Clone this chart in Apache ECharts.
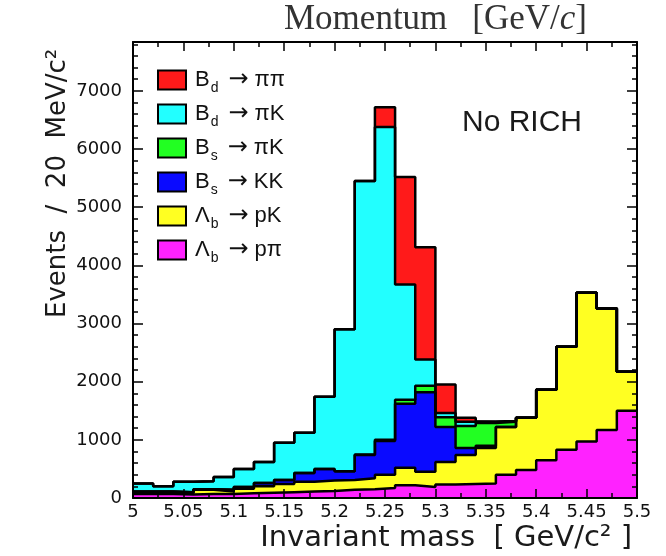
<!DOCTYPE html>
<html>
<head>
<meta charset="utf-8">
<script src="https://cdn.jsdelivr.net/npm/echarts@6/dist/echarts.min.js"></script>
<style>
  html, body { margin: 0; padding: 0; background: #ffffff; }
  #chart { width: 666px; height: 556px; }
</style>
</head>
<body>
<div id="chart"></div>
<script>
// Lower edges of the 20 MeV mass bins (GeV/c^2)
const binLow = [5.00, 5.02, 5.04, 5.06, 5.08, 5.10, 5.12, 5.14, 5.16, 5.18,
                5.20, 5.22, 5.24, 5.26, 5.28, 5.30, 5.32, 5.34, 5.36, 5.38,
                5.40, 5.42, 5.44, 5.46, 5.48];
const binWidth = 0.02;

// Events per bin for each decay channel (not stacked)
const bdPiPi = [0, 0, 0, 0, 0, 0, 0, 0, 0, 0, 0, 0, 340, 1850, 1930, 490, 70, 10, 5, 0, 0, 0, 0, 0, 0];
const bdPiK  = [140, 90, 180, 140, 220, 310, 360, 640, 690, 1240, 2440, 4700, 5380, 1980, 450, 70, 70, 15, 10, 0, 0, 0, 0, 0, 0];
const bsPiK  = [0, 0, 0, 0, 0, 0, 0, 0, 0, 0, 0, 10, 20, 70, 110, 170, 380, 390, 90, 0, 0, 0, 0, 0, 0];
const bsKK   = [20, 20, 20, 10, 30, 30, 60, 70, 150, 200, 150, 400, 580, 1100, 1370, 600, 120, 40, 0, 0, 0, 0, 0, 0, 0];
const lbPK   = [20, 20, 20, 70, 40, 80, 110, 140, 170, 180, 170, 190, 230, 300, 260, 390, 500, 610, 820, 900, 1210, 1770, 2560, 2090, 670];
const lbPPi  = [70, 70, 60, 70, 70, 80, 90, 100, 110, 120, 140, 150, 170, 220, 190, 230, 240, 250, 400, 480, 650, 830, 970, 1170, 1500];

// Legend order (top to bottom); the stack is built in reverse order
const channelValues = [bdPiPi, bdPiK, bsPiK, bsKK, lbPK, lbPPi];
const channelParent = ['B', 'B', 'B', 'B', 'Λ', 'Λ'];
const channelSub    = ['d', 'd', 's', 's', 'b', 'b'];
const channelDecay  = ['ππ', 'πK', 'πK', 'KK', 'pK', 'pπ'];
const channelFill   = ['#ff1a1a', '#22ffff', '#22ff22', '#0a0aff', '#ffff22', '#ff22ff'];

const yTickMax = 7840;

const names = channelParent.map((p, k) => p + channelSub[k] + '→' + channelDecay[k]);

// cumulative sum from the bottom of the stack up to (and including) channel k
function cumulative(k) {
  return binLow.map((x, i) => {
    let s = 0;
    for (let j = k; j < channelValues.length; j++) s += channelValues[j][i];
    return s;
  });
}

const series = channelValues.map((vals, k) => {
  const cum = cumulative(k);
  const pts = binLow.map((x, i) => [x, cum[i]]);
  pts.push([binLow[binLow.length - 1] + binWidth, cum[cum.length - 1]]);
  return {
    name: names[k],
    type: 'line',
    step: 'end',
    symbol: 'none',
    data: pts,
    itemStyle: { color: channelFill[k] },
    lineStyle: { color: '#000', width: 2.5 },
    areaStyle: { color: channelFill[k], opacity: 1 },
    emphasis: { disabled: true },
    z: 2
  };
});

const tickFont = { fontFamily: 'DejaVu Sans', fontSize: 18, color: '#111' };
const lineBlack = { color: '#000', width: 2 };

const legendRich = {
  m: { fontFamily: 'Liberation Sans', fontSize: 22, color: '#111' },
  p: { fontFamily: 'Liberation Sans', fontSize: 22, color: '#111', padding: [0, 0, 0, 4] },
  s: { fontFamily: 'Liberation Sans', fontSize: 14, color: '#111', padding: [16, 0, 0, 1] },
  a: { fontFamily: 'DejaVu Sans', fontSize: 24, color: '#111', padding: [0, 6, 0, 10] }
};

const chart = echarts.init(document.getElementById('chart'), null, { renderer: 'canvas' });
chart.setOption({
  animation: false,
  backgroundColor: '#ffffff',
  title: {
    text: '{r|Momentum}     {r|[GeV/}{i|c}{r|]}',
    left: 284,
    top: 2,
    padding: 0,
    textStyle: {
      fontWeight: 'normal',
      rich: {
        r: { fontFamily: 'Liberation Serif', fontSize: 35, fontWeight: 'normal', color: '#333' },
        i: { fontFamily: 'Liberation Serif', fontSize: 35, fontWeight: 'normal', color: '#333', fontStyle: 'italic' }
      }
    }
  },
  grid: { left: 133, right: 29, top: 42, bottom: 58 },
  legend: {
    orient: 'vertical',
    left: 157,
    top: 68,
    padding: 0,
    itemWidth: 28,
    itemHeight: 19,
    itemGap: 7,
    selectedMode: false,
    data: names.map((n, k) => ({
      name: n,
      icon: 'rect',
      itemStyle: { color: channelFill[k], borderColor: '#000', borderWidth: 2 }
    })),
    formatter: function (name) {
      const k = names.indexOf(name);
      return '{p|' + channelParent[k] + '}{s|' + channelSub[k] + '}{a|→}{m|' + channelDecay[k] + '}';
    },
    textStyle: { rich: legendRich }
  },
  xAxis: [
    {
      type: 'value', position: 'bottom', min: 5, max: 5.5, interval: 0.05, z: 10,
      axisLine: { onZero: false, lineStyle: lineBlack },
      axisTick: { inside: true, length: 9, lineStyle: { color: '#000', width: 1.5 } },
      minorTick: { show: true, splitNumber: 2, length: 5, lineStyle: { color: '#000', width: 1.5 } },
      splitLine: { show: false },
      axisLabel: Object.assign({ margin: 5, formatter: v => String(+v.toFixed(2)) }, tickFont)
    },
    {
      type: 'value', position: 'top', min: 5, max: 5.5, interval: 0.05, z: 10,
      axisLine: { onZero: false, lineStyle: lineBlack },
      axisTick: { inside: true, length: 9, lineStyle: { color: '#000', width: 1.5 } },
      minorTick: { show: true, splitNumber: 2, length: 5, lineStyle: { color: '#000', width: 1.5 } },
      splitLine: { show: false },
      axisLabel: { show: false }
    }
  ],
  yAxis: [
    {
      type: 'value', position: 'left', min: 0, max: yTickMax, interval: 1000, z: 10,
      axisLine: { show: true, onZero: false, lineStyle: lineBlack },
      axisTick: { inside: true, length: 10, lineStyle: { color: '#000', width: 1.5 } },
      minorTick: { show: true, splitNumber: 5, length: 5, lineStyle: { color: '#000', width: 1.5 } },
      splitLine: { show: false },
      axisLabel: Object.assign({ margin: 11, showMaxLabel: false, formatter: v => String(v) }, tickFont)
    },
    {
      type: 'value', position: 'right', min: 0, max: yTickMax, interval: 1000, z: 10,
      axisLine: { show: true, onZero: false, lineStyle: lineBlack },
      axisTick: { inside: true, length: 10, lineStyle: { color: '#000', width: 1.5 } },
      minorTick: { show: true, splitNumber: 5, length: 5, lineStyle: { color: '#000', width: 1.5 } },
      splitLine: { show: false },
      axisLabel: { show: false }
    }
  ],
  graphic: [
    {
      type: 'text', x: 462, y: 123, z: 20,
      style: { text: 'No RICH', fontFamily: 'Liberation Sans', fontSize: 30, fill: '#1a1a1a', verticalAlign: 'middle', align: 'left' }
    },
    {
      type: 'text', x: 632, y: 538, z: 20,
      style: { text: 'Invariant mass  [ GeV/c² ]', fontFamily: 'DejaVu Sans', fontSize: 29, fill: '#1a1a1a', verticalAlign: 'middle', align: 'right' }
    },
    {
      type: 'text', x: 58, y: 318, rotation: Math.PI / 2, z: 20,
      style: { text: 'Events  /  20  MeV/c²', fontFamily: 'DejaVu Sans', fontSize: 26, fill: '#1a1a1a', verticalAlign: 'middle', align: 'left' }
    }
  ],
  series: series
});
</script>
</body>
</html>
